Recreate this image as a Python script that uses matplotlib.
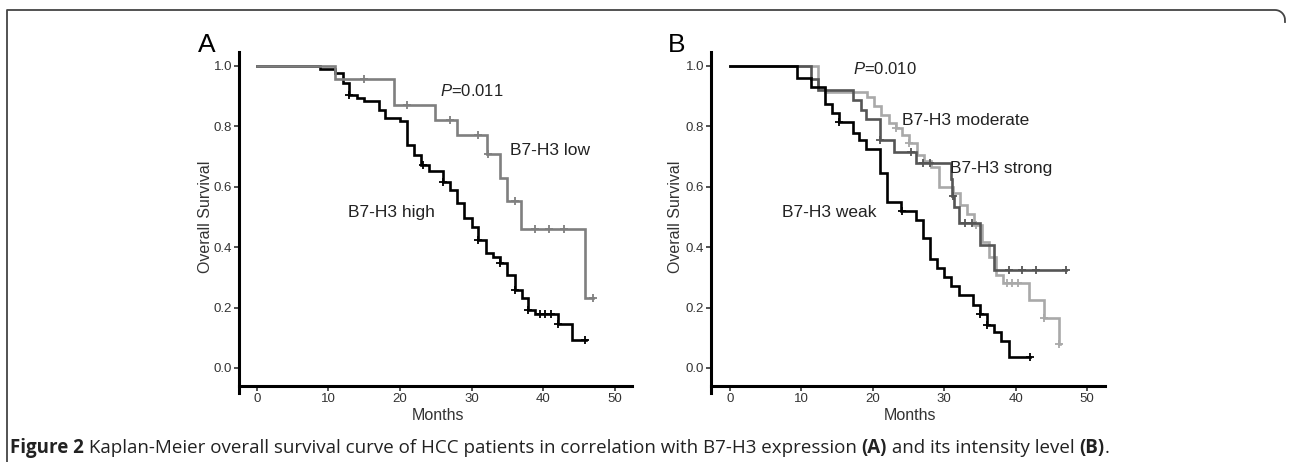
import numpy as np
import matplotlib
matplotlib.use("Agg")
import matplotlib.pyplot as plt
from matplotlib import font_manager
from matplotlib.lines import Line2D

# -----------------------------
# Data
# -----------------------------
# Panel A: B7-H3 low / high
low_t = [0, 10.9, 19.1, 24.9, 27.9, 32.1, 34.0, 34.9, 36.9, 45.8]
low_s = [1.0, 0.957, 0.871, 0.821, 0.771, 0.708, 0.628, 0.552, 0.459, 0.232]
low_end = 47.0
low_cens = [15.0, 20.9, 27.0, 30.9, 32.3, 36.0, 38.8, 40.8, 42.9, 46.9]

high_t = [0, 8.8, 10.9, 12.0, 12.9, 14.0, 15.0, 17.0, 17.9, 20.0, 20.9, 21.9,
          22.9, 24.0, 26.0, 27.0, 27.9, 28.9, 30.0, 30.9, 32.0, 33.0, 34.0,
          35.0, 36.0, 37.0, 37.9, 38.8, 42.0, 44.0]
high_s = [1.0, 0.989, 0.978, 0.945, 0.902, 0.893, 0.884, 0.854, 0.827, 0.819,
          0.738, 0.705, 0.672, 0.653, 0.617, 0.589, 0.545, 0.495, 0.468, 0.423,
          0.382, 0.368, 0.346, 0.307, 0.257, 0.230, 0.193, 0.178, 0.147, 0.094]
high_end = 46.0
high_cens = [12.9, 23.2, 26.0, 30.9, 34.0, 36.0, 37.9, 39.5, 40.3, 41.1, 42.0, 45.8]

# Panel B: weak / moderate / strong
weak_t = [0, 9.4, 11.3, 13.3, 14.3, 15.3, 17.2, 18.1, 19.1, 21.0, 22.0, 24.0,
          26.0, 27.0, 28.0, 29.0, 30.0, 31.0, 32.0, 34.0, 35.0, 36.0, 37.0,
          38.0, 39.0]
weak_s = [1.0, 0.96, 0.93, 0.875, 0.843, 0.815, 0.777, 0.755, 0.724, 0.644,
          0.55, 0.52, 0.49, 0.429, 0.362, 0.331, 0.30, 0.272, 0.241, 0.208,
          0.178, 0.141, 0.119, 0.09, 0.036]
weak_end = 42.0
weak_cens = [15.3, 24.1, 35.0, 36.0, 42.0]

mod_t = [0, 12.3, 13.3, 19.2, 20.2, 21.2, 22.2, 23.2, 24.1, 25.1, 26.2, 27.2,
         28.2, 29.2, 31.2, 32.2, 33.2, 34.2, 35.3, 36.3, 37.3, 38.2, 41.9,
         43.9, 46.0]
mod_s = [1.0, 0.927, 0.915, 0.898, 0.867, 0.838, 0.81, 0.793, 0.771, 0.744,
         0.705, 0.685, 0.666, 0.598, 0.578, 0.539, 0.51, 0.473, 0.418, 0.368,
         0.307, 0.28, 0.224, 0.164, 0.078]
mod_end = 46.2
mod_cens = [23.2, 25.1, 34.5, 38.8, 39.5, 40.3, 43.9, 46.1]

strong_t = [0, 11.3, 12.3, 17.2, 18.3, 19.1, 21.0, 23.0, 26.0, 30.9, 31.1,
            31.4, 32.1, 35.0, 37.0]
strong_s = [1.0, 0.957, 0.92, 0.887, 0.854, 0.823, 0.755, 0.716, 0.68, 0.625,
            0.57, 0.533, 0.48, 0.407, 0.324]
strong_end = 47.0
strong_cens = [21.0, 25.3, 27.0, 28.0, 31.2, 32.9, 33.9, 39.0, 40.9, 42.8, 47.0]

xticks = [0, 10, 20, 30, 40, 50]
yticks = [0.0, 0.2, 0.4, 0.6, 0.8, 1.0]

caption = [("Figure 2", "bold"),
           (" Kaplan-Meier overall survival curve of HCC patients in correlation with B7-H3 expression ", "normal"),
           ("(A)", "bold"),
           (" and its intensity level ", "normal"),
           ("(B)", "bold"),
           (".", "normal")]

# -----------------------------
# Style
# -----------------------------
plt.rcParams['font.family'] = ['Liberation Sans', 'DejaVu Sans']
plt.rcParams['mathtext.fontset'] = 'custom'
plt.rcParams['mathtext.rm'] = 'Liberation Sans'
plt.rcParams['mathtext.it'] = 'Liberation Sans:italic'

names = {f.name for f in font_manager.fontManager.ttflist}
cap_font = 'Liberation Sans Narrow' if 'Liberation Sans Narrow' in names else 'Open Sans'

W, H = 1290, 462
fig = plt.figure(figsize=(W / 100, H / 100), dpi=100)


def px_axes(left, top, right, bottom):
    return fig.add_axes([left / W, 1 - bottom / H, (right - left) / W, (bottom - top) / H])


def km(ax, t, s, end, cens, color):
    t = np.asarray(t, float)
    s = np.asarray(s, float)
    ax.step(np.append(t, end), np.append(s, s[-1]), where='post', color=color, lw=1.9,
            solid_joinstyle='miter')
    c = np.asarray(cens, float)
    idx = np.searchsorted(t, c, side='right') - 1
    ax.plot(c, s[idx], ls='none', marker='+', ms=6, mew=1.3, color=color)


def setup(ax, xmin, xmax):
    ax.set_xlim(xmin, xmax)
    ax.set_ylim(-0.083, 1.046)
    for sp in ['top', 'right']:
        ax.spines[sp].set_visible(False)
    ax.spines['left'].set_linewidth(2.2)
    ax.spines['bottom'].set_linewidth(2.2)
    ax.spines['bottom'].set_position(('data', -0.06))
    ax.set_xticks(xticks)
    ax.set_yticks(yticks)
    ax.set_yticklabels([f"{v:.1f}" for v in yticks])
    ax.tick_params(axis='both', labelsize=9.5, labelcolor='#333333', length=3.5,
                   width=1.2, pad=1.5, color='#333333')
    ax.patch.set_alpha(0)


# Panel A
axA = px_axes(239, 52, 632, 393)
setup(axA, -2.5, 52.4)
km(axA, high_t, high_s, high_end, high_cens, 'black')
km(axA, low_t, low_s, low_end, low_cens, '#7f7f7f')
axA.text(25.6, 0.90, '$P$=0.011', fontsize=12, color='#222222')
axA.text(35.3, 0.705, 'B7-H3 low', fontsize=12.5, color='#222222')
axA.text(12.7, 0.50, 'B7-H3 high', fontsize=12.5, color='#222222')

# Panel B
axB = px_axes(711, 52, 1105, 393)
setup(axB, -2.66, 52.5)
km(axB, mod_t, mod_s, mod_end, mod_cens, '#a9a9a9')
km(axB, strong_t, strong_s, strong_end, strong_cens, '#555555')
km(axB, weak_t, weak_s, weak_end, weak_cens, 'black')
axB.text(17.2, 0.974, '$P$=0.010', fontsize=12, color='#222222')
axB.text(24.1, 0.805, 'B7-H3 moderate', fontsize=12.5, color='#222222')
axB.text(30.8, 0.646, 'B7-H3 strong', fontsize=12.5, color='#222222')
axB.text(7.3, 0.50, 'B7-H3 weak', fontsize=12.5, color='#222222')

# Axis labels and panel letters
for cx, lx, letter, lettx in [(205, 438, 'A', 198), (675, 910, 'B', 668)]:
    fig.text(cx / W, 1 - 217 / H, 'Overall Survival', rotation=90, ha='center',
             va='center', fontsize=11.5, color='#333333')
    fig.text(lx / W, 1 - 416 / H, 'Months', ha='center', va='center',
             fontsize=11.5, color='#333333')
    fig.text(lettx / W, 1 - 52 / H, letter, ha='left', va='baseline', fontsize=19)

# Frame (open box, rounded top-right corner)
ang = np.linspace(np.pi / 2, 0, 12)
fx = np.concatenate([[7, 7], 1275 + 10 * np.cos(ang)])
fy = np.concatenate([[H, 10], 20 - 10 * np.sin(ang)])
fy[-1] = 22
fig.add_artist(Line2D(fx / W, 1 - fy / H, color='#444444', lw=1.3,
                      transform=fig.transFigure))

# Caption with mixed weights
fig.canvas.draw()
renderer = fig.canvas.get_renderer()
x = 10
for txt, wt in caption:
    t = fig.text(x / W, 1 - 448 / H, txt, fontsize=13.5, fontweight=wt,
                 family=[cap_font, 'DejaVu Sans'], ha='left', va='center', color='#222222')
    x += t.get_window_extent(renderer).width

fig.savefig('out.png', dpi=100)
